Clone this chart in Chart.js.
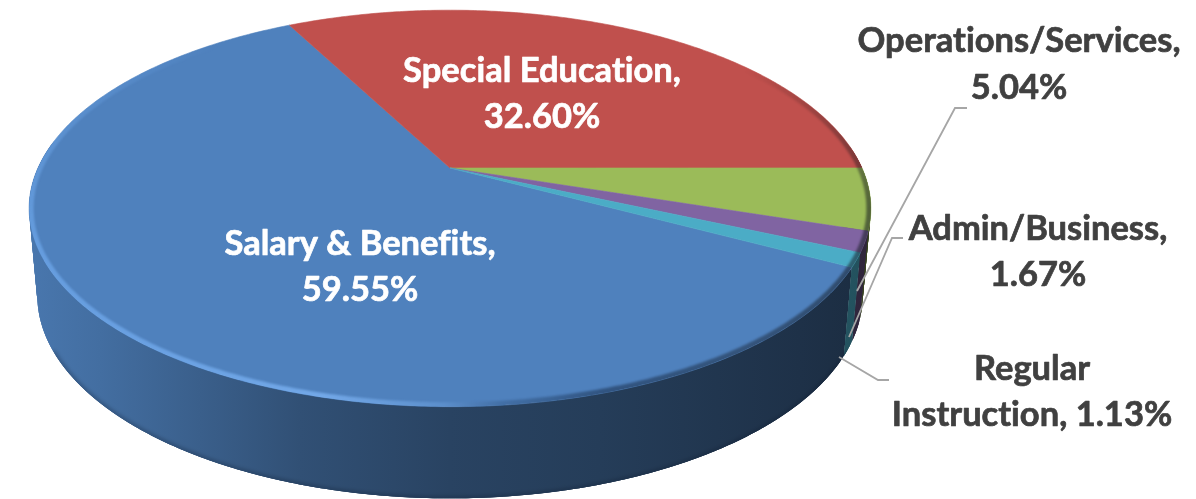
<!DOCTYPE html>
<html>
<head>
<meta charset="utf-8">
<style>html,body{margin:0;padding:0;background:#fff;overflow:hidden}canvas{display:block}</style>
<script src="https://cdn.jsdelivr.net/npm/chart.js@4"></script>
</head>
<body>
<canvas id="budget" width="1196" height="499"></canvas>
<script>
// Budget shares, clockwise from the Salary & Benefits slice
const categories = ['Salary & Benefits', 'Special Education', 'Operations/Services', 'Admin/Business', 'Regular Instruction'];
const shares = [59.55, 32.60, 5.04, 1.67, 1.13];
const sliceColors = ['#4f81bd', '#c0504d', '#9bbb59', '#8064a2', '#4bacc6'];

// Perspective disc: the top face and the smaller bottom face of the cylinder
const topFace = { cx: 450, cy: 168, xs: 412, ys: 190, tilt: 0.204 };
const bottomFace = { cx: 450, cy: 254, xs: 404, ys: 194.5, tilt: 0.204 };

function project(face, a) {
  const u = Math.cos(a), v = Math.sin(a), w = 1 - face.tilt * v;
  return [face.cx + face.xs * u / w, face.cy + face.ys * v / w];
}

// Brightness of the cylinder wall across its width
const wallStops = [[27, .92], [100, .85], [300, .62], [450, .52], [600, .47], [800, .38], [880, .34]];
function wallGradient(ctx, hex, boost) {
  const n = parseInt(hex.slice(1), 16), rgb = [n >> 16, (n >> 8) & 255, n & 255];
  const g = ctx.createLinearGradient(27, 0, 880, 0);
  wallStops.forEach(([x, k]) => {
    const c = rgb.map(q => Math.min(255, Math.round(q * k * boost)));
    g.addColorStop((x - 27) / 853, `rgb(${c})`);
  });
  return g;
}

function traceArc(ctx, face, a0, a1, first) {
  const steps = Math.max(2, Math.ceil(Math.abs(a1 - a0) / 0.01));
  for (let i = 0; i <= steps; i++) {
    const p = project(face, a0 + (a1 - a0) * i / steps);
    if (i === 0 && first) ctx.moveTo(p[0], p[1]); else ctx.lineTo(p[0], p[1]);
  }
}

const cylinderPie = {
  id: 'cylinderPie',
  beforeDatasetsDraw(chart) {
    const ctx = chart.ctx;
    const arcs = chart.getDatasetMeta(0).data;
    const boosts = [1, 1, 1, 1.05, 1.35];
    const STEP = 0.012;

    // Wall: overlapping opaque strips, so no seams and no holes at the silhouette
    arcs.forEach((arc, i) => {
      ctx.fillStyle = wallGradient(ctx, sliceColors[i], boosts[i]);
      for (let a = arc.startAngle; a < arc.endAngle; a += STEP) {
        if (Math.sin(a) < -0.12) continue;
        const b = Math.min(a + STEP * 3, arc.endAngle);
        ctx.beginPath();
        traceArc(ctx, topFace, a, b, true);
        traceArc(ctx, bottomFace, b, a, false);
        ctx.closePath();
        ctx.fill();
      }
    });

    // Soft dark fringe along the lower wall edge
    ctx.save();
    ctx.filter = 'blur(2px)';
    ctx.strokeStyle = 'rgba(10,25,45,.45)';
    ctx.lineWidth = 3;
    ctx.globalCompositeOperation = 'source-atop';
    ctx.beginPath();
    traceArc(ctx, bottomFace, Math.PI * 0.15, Math.PI * 0.85, true);
    ctx.stroke();
    ctx.restore();

    // Top face
    arcs.forEach((arc, i) => {
      ctx.beginPath();
      ctx.moveTo(topFace.cx, topFace.cy);
      traceArc(ctx, topFace, arc.startAngle, arc.endAngle, false);
      ctx.closePath();
      ctx.fillStyle = sliceColors[i];
      ctx.fill();
      ctx.strokeStyle = sliceColors[i];
      ctx.lineWidth = 0.6;
      ctx.stroke();
    });

    // Bevel on the rim: pale towards the front left, dark on the right
    ctx.save();
    ctx.beginPath();
    traceArc(ctx, topFace, 0, Math.PI * 2, true);
    ctx.closePath();
    ctx.clip();
    const bevel = ctx.createConicGradient(0, topFace.cx, 208);
    [[0, 'rgba(20,25,30,.55)'], [25, 'rgba(20,30,45,.45)'], [50, 'rgba(20,40,70,.5)'], [75, 'rgba(30,60,100,.25)'],
     [92, 'rgba(130,185,250,.25)'], [125, 'rgba(130,185,250,.7)'], [175, 'rgba(120,180,250,.55)'], [195, 'rgba(120,180,250,.25)'],
     [215, 'rgba(120,180,250,0)'], [335, 'rgba(40,20,20,0)'], [360, 'rgba(20,25,30,.55)']]
      .forEach(([d, c]) => bevel.addColorStop(d / 360, c));
    ctx.filter = 'blur(1.2px)';
    ctx.strokeStyle = bevel;
    ctx.lineWidth = 9;
    ctx.beginPath();
    traceArc(ctx, topFace, 0, Math.PI * 2, true);
    ctx.closePath();
    ctx.stroke();
    ctx.restore();

    return false;
  },
  afterDraw(chart) {
    const ctx = chart.ctx;
    const pct = i => shares[i].toFixed(2) + '%';

    // Leader lines from the outer labels to their slices
    const leaders = [
      [[967, 108], [955, 108], [857, 291]],
      [[903, 238], [892, 238], [849, 337]],
      [[889, 380], [878, 380], [839, 357]]
    ];
    ctx.strokeStyle = '#a6a6a6';
    ctx.lineWidth = 1.8;
    leaders.forEach(path => {
      ctx.beginPath();
      path.forEach((q, k) => k ? ctx.lineTo(q[0], q[1]) : ctx.moveTo(q[0], q[1]));
      ctx.stroke();
    });

    const labels = [
      { x: 360, y: [244, 290], color: '#fff', lines: [categories[0] + ',', pct(0)] },
      { x: 542, y: [71, 117], color: '#fff', lines: [categories[1] + ',', pct(1)] },
      { x: 1019, y: [41, 88], color: '#404040', lines: [categories[2] + ',', pct(2)] },
      { x: 1038, y: [229, 275], color: '#404040', lines: [categories[3] + ',', pct(3)] },
      { x: 1032, y: [369, 415], color: '#404040', lines: ['Regular', 'Instruction, ' + pct(4)] }
    ];
    ctx.font = 'bold 34.5px Lato, "Open Sans", sans-serif';
    ctx.letterSpacing = '0.01px';
    ctx.textAlign = 'center';
    ctx.textBaseline = 'middle';
    ctx.lineJoin = 'round';
    ctx.lineWidth = 0.7;
    labels.forEach(l => {
      ctx.fillStyle = l.color;
      ctx.strokeStyle = l.color;
      l.lines.forEach((t, i) => {
        ctx.fillText(t, l.x, l.y[i]);
        ctx.strokeText(t, l.x, l.y[i]);
      });
    });
  }
};

new Chart(document.getElementById('budget'), {
  type: 'pie',
  data: { labels: categories, datasets: [{ data: shares, backgroundColor: sliceColors, borderWidth: 0 }] },
  options: {
    responsive: false,
    animation: false,
    rotation: 118.2,
    plugins: { legend: { display: false }, tooltip: { enabled: false } }
  },
  plugins: [cylinderPie]
});
</script>
</body>
</html>
